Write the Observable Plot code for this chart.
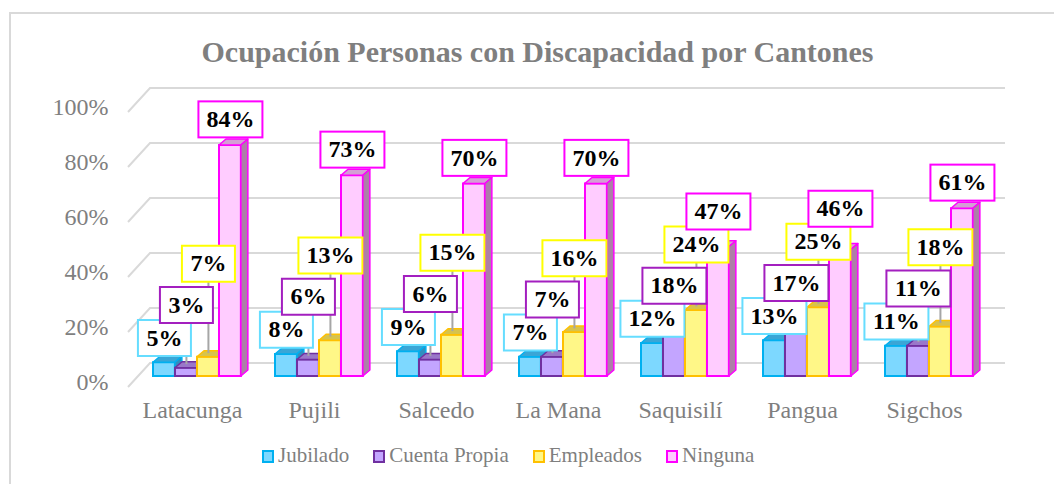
<!DOCTYPE html>
<html><head><meta charset="utf-8">
<script src="https://cdn.jsdelivr.net/npm/d3@7"></script>
<script src="https://cdn.jsdelivr.net/npm/@observablehq/plot@0.6"></script>
<style>
body{margin:0;background:#fff;}
#wrap{position:relative;width:1054px;height:484px;overflow:hidden;font-family:"Liberation Serif","Times New Roman",serif;}
#frame{position:absolute;left:9px;top:12px;width:1100px;height:520px;border:2px solid #d9d9d9;box-sizing:border-box;}
#title{position:absolute;left:0;width:1075px;top:37px;text-align:center;font-size:30px;line-height:30px;font-weight:bold;color:#7f7f7f;white-space:nowrap;}
#chart{position:absolute;left:0;top:70px;}
#legend{position:absolute;left:262px;top:445px;display:flex;gap:24px;font-size:21px;line-height:21px;color:#7f7f7f;white-space:nowrap;}
#legend .item{display:flex;align-items:center;}
#legend .sw{display:inline-block;width:8px;height:9px;border:2px solid;margin-right:4px;margin-top:2px;}
</style></head>
<body>
<div id="wrap">
  <div id="frame"></div>
  <div id="title">Ocupación Personas con Discapacidad por Cantones</div>
  <div id="chart"></div>
  <div id="legend"></div>
</div>
<script>
// ---- data ----
const categories = ["Latacunga", "Pujili", "Salcedo", "La Mana", "Saquisilí", "Pangua", "Sigchos"];
const series = ["Jubilado", "Cuenta Propia", "Empleados", "Ninguna"];
const jubilado = [5, 8, 9, 7, 12, 13, 11];
const cuentaPropia = [3, 6, 6, 7, 18, 17, 11];
const empleados = [7, 13, 15, 16, 24, 25, 18];
const ninguna = [84, 73, 70, 70, 47, 46, 61];
const yTicks = [0, 20, 40, 60, 80, 100];

// ---- styles ----
const fills = ["#7dd8ff", "#c3a5ff", "#fff787", "#ffccff"];
const strokes = ["#00b0f0", "#7030a0", "#ffc000", "#ff00ff"];
const tops = ["#3aa6d6", "#9a77c9", "#d7c34c", "#d49fd4"];
const sides = ["#2f8fbf", "#7f5fae", "#c0a83c", "#ad7fa8"];
const boxStrokes = ["#66ddff", "#a31fbf", "#ffff00", "#ff00ff"];

const valuesBySeries = [jubilado, cuentaPropia, empleados, ninguna];
const rows = [];
categories.forEach((c, i) => {
  let prev = null;
  const gaps = [0, 12, 15, 12];
  const lift = [9, 9, 9, 9.5];
  series.forEach((s, k) => {
    const v = valuesBySeries[k][i];
    let ly = v + lift[k];
    if (prev !== null) ly = Math.max(ly, prev + gaps[k]);
    prev = ly;
    rows.push({category: c, series: s, k, value: v, labelY: ly, label: v + "%"});
  });
});

const W = 1054, H = 360, ML = 130, MR = 69, MT = 31, MB = 54;
const band = (W - ML - MR) / categories.length;
const barW = 22, groupOffset = 22;
const depthX = 7, depthY = 6;
const svgNS = "http://www.w3.org/2000/svg";

function gridRender(index, scales, values, dims) {
  const g = document.createElementNS(svgNS, "g");
  for (const t of yTicks) {
    const y = scales.y(t);
    const p = document.createElementNS(svgNS, "path");
    p.setAttribute("d", `M${dims.marginLeft - 2},${y + 11}L${dims.marginLeft + 20},${y - 13}H${dims.width - dims.marginRight + 20}`);
    p.setAttribute("fill", "none");
    p.setAttribute("stroke", "#d9d9d9");
    p.setAttribute("stroke-width", 2);
    g.appendChild(p);
  }
  return g;
}

function depthRender(k) {
  return (index, scales, values, dims, context, next) => {
    const g = next(index, scales, values, dims, context);
    const rects = Array.from(g.querySelectorAll("rect"));
    for (const r of rects) {
      const x = +r.getAttribute("x"), y = +r.getAttribute("y");
      const w = +r.getAttribute("width"), h = +r.getAttribute("height");
      const top = document.createElementNS(svgNS, "polygon");
      top.setAttribute("points", `${x},${y} ${x + depthX},${y - depthY} ${x + w + depthX},${y - depthY} ${x + w},${y}`);
      top.setAttribute("fill", tops[k]);
      top.setAttribute("stroke", strokes[k]);
      top.setAttribute("stroke-width", 1.5);
      top.setAttribute("stroke-linejoin", "round");
      const side = document.createElementNS(svgNS, "polygon");
      side.setAttribute("points", `${x + w},${y} ${x + w + depthX},${y - depthY} ${x + w + depthX},${y + h - depthY} ${x + w},${y + h}`);
      side.setAttribute("fill", sides[k]);
      side.setAttribute("stroke", strokes[k]);
      side.setAttribute("stroke-width", 1.5);
      side.setAttribute("stroke-linejoin", "round");
      g.appendChild(top);
      g.appendChild(side);
    }
    return g;
  };
}

function boxRender(k) {
  return (index, scales, values, dims, context, next) => {
    const g = next(index, scales, values, dims, context);
    const texts = Array.from(g.querySelectorAll("text"));
    texts.forEach((el, j) => {
      let X, Y;
      const t = el.getAttribute("transform");
      const m = t && t.match(/translate\(\s*([-\d.e]+)[ ,]+([-\d.e]+)\s*\)/);
      if (m) { X = +m[1]; Y = +m[2]; }
      else { X = +(el.getAttribute("x") || 0); Y = +(el.getAttribute("y") || 0); }
      const n = el.textContent.length;
      const w = 11 * n + 31, h = 36;
      const r = document.createElementNS(svgNS, "rect");
      r.setAttribute("x", X - w / 2);
      r.setAttribute("y", Y - h / 2);
      r.setAttribute("width", w);
      r.setAttribute("height", h);
      r.setAttribute("fill", "#ffffff");
      r.setAttribute("stroke", boxStrokes[k]);
      r.setAttribute("stroke-width", 2);
      el.parentNode.insertBefore(r, el);
    });
    return g;
  };
}

const centerOff = k => groupOffset + barW * k + barW / 2 - band / 2;

const marks = [];
marks.push(Plot.ruleY(yTicks, {y: d => d, render: gridRender}));
marks.push(Plot.text(yTicks, {y: d => d, text: d => d + "%", frameAnchor: "left", textAnchor: "end", dx: -22, dy: 6, fill: "#7f7f7f", fontSize: 24}));
series.forEach((s, k) => {
  marks.push(Plot.barY(rows.filter(d => d.k === k), {
    x: "category", y: "value", fill: fills[k], stroke: strokes[k], strokeWidth: 2,
    insetLeft: groupOffset + barW * k, insetRight: band - groupOffset - barW * (k + 1),
    render: depthRender(k)
  }));
});
series.forEach((s, k) => {
  marks.push(Plot.link(rows.filter(d => d.k === k && d.labelY - d.value > 12), {
    x1: "category", x2: "category", y1: d => d.value + 1.5, y2: "labelY",
    dx: centerOff(k), stroke: "#a6a6a6", strokeWidth: 2
  }));
});
series.forEach((s, k) => {
  marks.push(Plot.text(rows.filter(d => d.k === k), {
    x: "category", y: "labelY", text: "label", dx: centerOff(k),
    fill: "#000000", fontSize: 24, fontWeight: "bold", render: boxRender(k)
  }));
});

const chart = Plot.plot({
  width: W, height: H,
  marginLeft: ML, marginRight: MR, marginTop: MT, marginBottom: MB,
  style: {fontFamily: "'Liberation Serif', 'Times New Roman', serif", fontSize: "24px", color: "#7f7f7f", background: "transparent", overflow: "visible"},
  x: {domain: categories, padding: 0, tickSize: 0, tickPadding: 24, label: null},
  y: {domain: [0, 100], axis: null},
  marks
});
document.getElementById("chart").appendChild(chart);

const legend = document.getElementById("legend");
series.forEach((s, k) => {
  const item = document.createElement("div");
  item.className = "item";
  const sw = document.createElement("span");
  sw.className = "sw";
  sw.style.background = fills[k];
  sw.style.borderColor = strokes[k];
  item.appendChild(sw);
  const tx = document.createElement("span");
  tx.textContent = s;
  item.appendChild(tx);
  legend.appendChild(item);
});
</script>
</body></html>
